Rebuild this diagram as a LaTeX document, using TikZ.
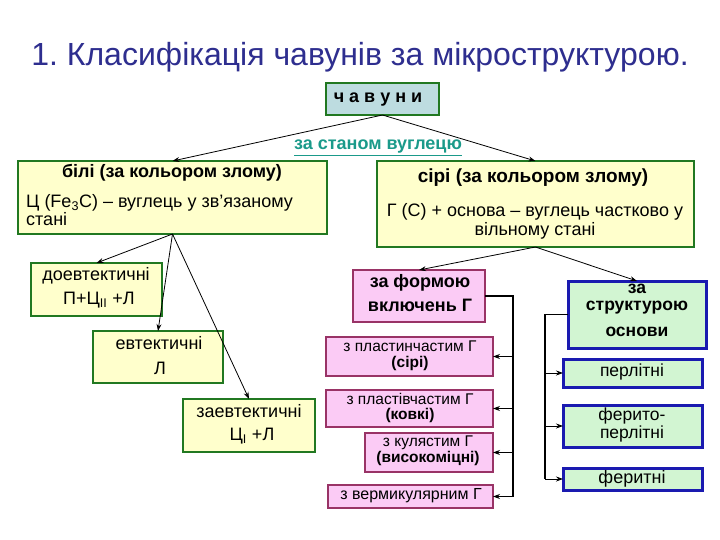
\documentclass[tikz,border=0pt]{standalone}
\usepackage{fontspec}
\setmainfont{Liberation Sans}
\usetikzlibrary{arrows.meta,calc}
\definecolor{titleblue}{HTML}{2E2E8F}
\definecolor{yel}{HTML}{FFFFCC}
\definecolor{dgreen}{HTML}{217821}
\definecolor{pinkf}{HTML}{FBCBF5}
\definecolor{purp}{HTML}{993366}
\definecolor{lgreen}{HTML}{D2F5D2}
\definecolor{dblue}{HTML}{1A1AB0}
\definecolor{lblue}{HTML}{BDDCE0}
\definecolor{tealc}{HTML}{1A9A8A}
\tikzset{
  boxbase/.style={anchor=north west, inner sep=0pt, outer sep=0pt},
  ybox/.style={boxbase, fill=yel, draw=dgreen, line width=2.5pt},
  pbox/.style={boxbase, fill=pinkf, draw=purp, line width=2.5pt},
  gbox/.style={boxbase, fill=lgreen, draw=dblue, line width=3pt},
  cbox/.style={boxbase, fill=lblue, draw=dgreen, line width=2.5pt},
  txt/.style={inner sep=0pt, align=center},
  arr/.style={-{Stealth[length=7pt,width=5pt]}, line width=0.8pt},
  brk/.style={line width=1.4pt},
}
\begin{document}
\begin{tikzpicture}[x=1pt,y=-1pt]
\useasboundingbox[fill=white] (0,0) rectangle (720,540);
% title
\node[txt, text=titleblue, font=\fontsize{32}{36}\selectfont] (title) at (360,57) {1.\ Класифікація чавунів за мікроструктурою.};
% boxes
\node[cbox, minimum width=113pt, minimum height=32pt] (chav) at (326,83) {};
\node[txt, font=\fontsize{18}{20}\selectfont\bfseries] (chavt) at (378,100) {ч а в у н и};
\node[txt, text=tealc, font=\fontsize{18}{20}\selectfont\bfseries] (stan) at (378,148) {\underline{за станом вуглецю}};

\node[ybox, minimum width=309pt, minimum height=73pt] (white) at (18,161) {};
\node[txt, font=\fontsize{18}{20}\selectfont\bfseries] (whitet) at (172,173) {білі (за кольором злому)};
\node[txt, align=left, anchor=west, font=\fontsize{18}{15}\selectfont] (whiteb) at (26,210) {Ц (Fe\textsubscript{3}C) – вуглець у зв’язаному\\стані};

\node[ybox, minimum width=317pt, minimum height=86pt] (grey) at (377,161) {};
\node[txt, font=\fontsize{19}{20}\selectfont\bfseries] (greyt) at (533,178) {сірі (за кольором злому)};
\node[txt, font=\fontsize{18}{19}\selectfont] (greyb) at (535,221) {Г (С) + основа – вуглець частково у\\вільному стані};

\node[ybox, minimum width=131pt, minimum height=53pt] (doevt) at (31,263) {};
\node[txt, font=\fontsize{18}{20}\selectfont] (doevt1) at (96,276) {доевтектичні};
\node[txt, font=\fontsize{18}{20}\selectfont] (doevt2) at (99,300) {П+Ц\textsubscript{II} +Л};

\node[ybox, minimum width=130pt, minimum height=52pt] (evt) at (93,331) {};
\node[txt, font=\fontsize{18}{20}\selectfont] (evt1) at (159,343) {евтектичні};
\node[txt, font=\fontsize{18}{20}\selectfont] (evt2) at (160,368) {Л};

\node[ybox, minimum width=132pt, minimum height=53pt] (zaevt) at (183,399) {};
\node[txt, font=\fontsize{18}{20}\selectfont] (zaevt1) at (249,411) {заевтектичні};
\node[txt, font=\fontsize{18}{20}\selectfont] (zaevt2) at (252,436) {Ц\textsubscript{I} +Л};

\node[pbox, minimum width=132pt, minimum height=52pt] (pp) at (353,270) {};
\node[txt, font=\fontsize{18}{24}\selectfont\bfseries] (ppt) at (420,293) {за формою\\включень Г};

\node[gbox, minimum width=138pt, minimum height=67pt] (gp) at (568,281) {};
\node[txt, font=\fontsize{17.5}{17}\selectfont\bfseries] (gpt1) at (637,299) {за\\структурою};
\node[txt, font=\fontsize{17.5}{18}\selectfont\bfseries] (gpt2) at (637,332) {основи};

\node[pbox, minimum width=167pt, minimum height=39pt] (p1) at (326,337) {};
\node[txt, font=\fontsize{15.5}{15.5}\selectfont] (p1t) at (410,356) {з пластинчастим Г\\\textbf{(сірі)}};
\node[pbox, minimum width=167pt, minimum height=37pt] (p2) at (326,390) {};
\node[txt, font=\fontsize{15.5}{15.5}\selectfont] (p2t) at (410,408) {з пластівчастим Г\\\textbf{(ковкі)}};
\node[pbox, minimum width=128pt, minimum height=39pt] (p3) at (365,433) {};
\node[txt, font=\fontsize{15.5}{15.5}\selectfont] (p3t) at (428,451) {з кулястим Г\\\textbf{(високоміцні)}};
\node[pbox, minimum width=165pt, minimum height=23pt] (p4) at (328,485) {};
\node[txt, font=\fontsize{16}{14}\selectfont] (p4t) at (411,496) {з вермикулярним Г};

\node[gbox, minimum width=139pt, minimum height=28pt] (g1) at (563,359) {};
\node[txt, font=\fontsize{17.5}{18}\selectfont] (g1t) at (632,372) {перлітні};
\node[gbox, minimum width=139pt, minimum height=42pt] (g2) at (563,405) {};
\node[txt, font=\fontsize{17.5}{16}\selectfont] (g2t) at (632,425) {ферито-\\перлітні};
\node[gbox, minimum width=139pt, minimum height=22pt] (g3) at (563,468) {};
\node[txt, font=\fontsize{18}{18}\selectfont] (g3t) at (632,479) {феритні};

% connectors
\draw[arr] (chav.south) -- (white.north);
\draw[arr] (chav.south) -- (grey.north);
\draw[arr] (white.south) -- (doevt.north);
\draw[arr] (white.south) -- (evt.north);
\draw[arr] (white.south) -- (zaevt.north);
\draw[arr] (grey.south) -- (pp.north);
\draw[arr] (grey.south) -- (gp.north);

\coordinate (bp) at (513,0);
\draw[brk] (pp.east) -- (pp.east -| bp) -- (p4.east -| bp);
\foreach \n in {p1,p2,p3,p4}{\draw[arr] (\n.east -| bp) -- (\n.east);}
\coordinate (bg) at (545,0);
\draw[brk] (gp.west) -- (gp.west -| bg) -- (g3.west -| bg);
\foreach \n in {g1,g2,g3}{\draw[arr] (\n.west -| bg) -- (\n.west);}
\end{tikzpicture}
\end{document}
